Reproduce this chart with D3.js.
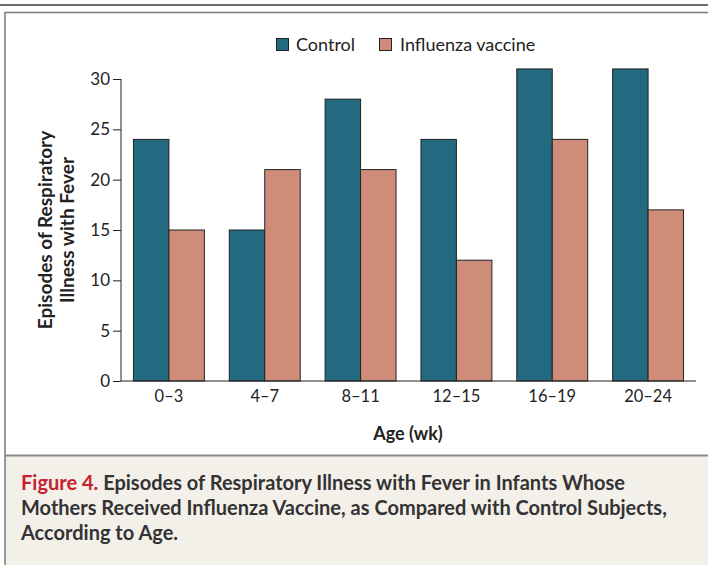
<!DOCTYPE html>
<html><head><meta charset="utf-8">
<script src="https://cdn.jsdelivr.net/npm/d3@7"></script>
<style>body{margin:0;background:#fff;}svg{display:block;}</style>
</head><body>
<script>
const categories = ["0\u20133","4\u20137","8\u201311","12\u201315","16\u201319","20\u201324"];
const seriesNames = ["Control","Influenza vaccine"];
const controlValues = [24,15,28,24,31,31];
const vaccineValues = [15,21,21,12,24,17];
const yTicks = [0,5,10,15,20,25,30];
const colors = ["#236980","#cf8c78"];

const W=708,H=565;
const svg=d3.select("body").append("svg").attr("width",W).attr("height",H);
const font="Lato, 'Open Sans', sans-serif";

// frame
svg.append("rect").attr("x",0).attr("y",0).attr("width",W).attr("height",H).attr("fill","#fff");
svg.append("line").attr("x1",0).attr("x2",W).attr("y1",5).attr("y2",5).attr("stroke","#6b6b6b").attr("stroke-width",2);
svg.append("rect").attr("x",5).attr("y",456).attr("width",W).attr("height",H-456).attr("fill","#f3f0ea");
svg.append("path").attr("d",`M${W+2},12.5 H5 V${H+2}`).attr("fill","none").attr("stroke","#7a7a7a").attr("stroke-width",1.5);
svg.append("line").attr("x1",5).attr("x2",W).attr("y1",455.5).attr("y2",455.5).attr("stroke","#8a8a8a").attr("stroke-width",2);

const x=d3.scaleBand().domain(categories).range([121,696]).paddingInner(0.26).paddingOuter(0.13);
const xs=d3.scaleBand().domain(seriesNames).range([0,x.bandwidth()]);
const y=d3.scaleLinear().domain([0,30]).range([381,79]);

const data=categories.map((c,i)=>({cat:c,vals:[controlValues[i],vaccineValues[i]]}));
const g=svg.append("g");
g.selectAll("g.grp").data(data).join("g").attr("transform",d=>`translate(${x(d.cat)},0)`)
 .selectAll("rect").data(d=>d.vals.map((v,j)=>({v,s:seriesNames[j],j}))).join("rect")
 .attr("x",d=>xs(d.s)).attr("width",xs.bandwidth()).attr("y",d=>y(d.v)).attr("height",d=>y(0)-y(d.v))
 .attr("fill",d=>colors[d.j]).attr("stroke","#222").attr("stroke-width",1);

// y axis
const ya=svg.append("g").attr("transform","translate(121,0)").call(d3.axisLeft(y).tickValues(yTicks).tickSize(8).tickPadding(3));
ya.select(".domain").attr("stroke","#222").attr("d","M0,79V381");
ya.selectAll(".tick line").attr("stroke","#222");
ya.selectAll("text").attr("font-family",font).attr("font-size",17).attr("fill","#222");

// x axis
const xa=svg.append("g").attr("transform","translate(0,381)").call(d3.axisBottom(x).tickSize(0).tickPadding(9));
xa.select(".domain").attr("stroke","#222").attr("d","M121,0H696");
xa.selectAll("text").attr("font-family",font).attr("font-size",16.5).attr("fill","#222");

svg.append("text").attr("x",408).attr("y",440).attr("text-anchor","middle").attr("font-family",font)
 .attr("font-weight","bold").attr("font-size",18).attr("fill","#222").text("Age (wk)");

const yt=svg.append("text").attr("transform","rotate(-90)").attr("text-anchor","middle")
 .attr("font-family",font).attr("font-weight","bold").attr("font-size",19).attr("fill","#222");
yt.append("tspan").attr("x",-230).attr("y",52).text("Episodes of Respiratory");
yt.append("tspan").attr("x",-230).attr("y",74).text("Illness with Fever");

// legend
const leg=[{x:276,tx:296},{x:379,tx:400}];
seriesNames.forEach((s,i)=>{
  svg.append("rect").attr("x",leg[i].x+0.5).attr("y",38.5).attr("width",12).attr("height",12)
   .attr("fill",colors[i]).attr("stroke","#222").attr("stroke-width",1);
  svg.append("text").attr("x",leg[i].tx).attr("y",51).attr("font-family",font).attr("font-size",18)
   .attr("fill","#222").text(s);
});

// caption
const cap=svg.append("g").attr("font-family",font).attr("font-size",20).attr("font-weight","bold").attr("fill","#333");
const l1=cap.append("text").attr("x",21).attr("y",490);
l1.append("tspan").attr("fill","#c8202f").text("Figure 4.");
l1.append("tspan").text(" Episodes of Respiratory Illness with Fever in Infants Whose");
cap.append("text").attr("x",21).attr("y",515).text("Mothers Received Influenza Vaccine, as Compared with Control Subjects,");
cap.append("text").attr("x",21).attr("y",540).text("According to Age.");
</script>
</body></html>
